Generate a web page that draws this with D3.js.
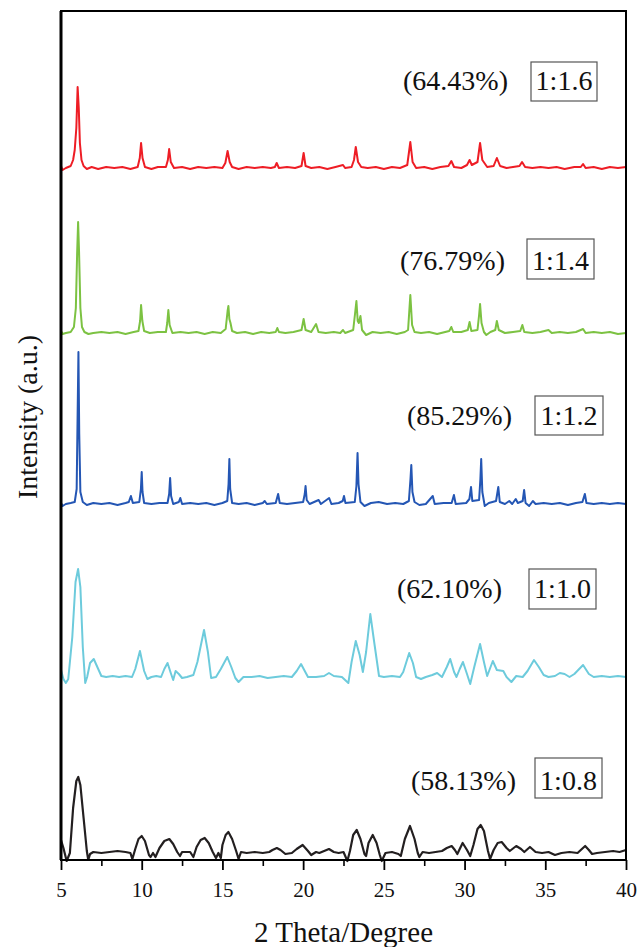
<!DOCTYPE html>
<html><head><meta charset="utf-8">
<script src="https://cdn.jsdelivr.net/npm/d3@7/dist/d3.min.js"></script>
<style>body{margin:0;background:#fff;}svg{display:block;}text{font-family:"Liberation Serif","Times New Roman",serif;}</style>
</head><body><svg id="c" width="639" height="947"></svg>
<script>
// ---- data (2θ in degrees, intensity above each curve's own baseline, a.u.) ----
const ratios = ["1:1.6", "1:1.4", "1:1.2", "1:1.0", "1:0.8"];
const crystallinity = ["(64.43%)", "(76.79%)", "(85.29%)", "(62.10%)", "(58.13%)"];
const offsets = [692, 527, 356, 183, 7];
const xTicks = [5, 10, 15, 20, 25, 30, 35, 40];
const xMinorTicks = [7.5, 12.5, 17.5, 22.5, 27.5, 32.5, 37.5];

const s16 = [[5.0,2],[5.1,-2],[5.3,0],[5.6,2],[5.75,8],[5.85,18],[5.95,40],[6.03,81],[6.1,60],[6.17,25],[6.27,8],[6.4,2],[6.6,-1],[6.9,1],[7.3,-1],[7.8,1],[8.3,0],[8.8,1],[9.3,-1],[9.75,1],[9.88,10],[9.96,25],[10.05,10],[10.2,1],[10.6,-1],[11.0,1],[11.5,1],[11.62,8],[11.7,19],[11.8,6],[12.0,0],[12.5,1],[13.0,-1],[13.5,1],[14.0,0],[14.5,1],[15.0,0],[15.18,5],[15.32,17],[15.45,6],[15.6,1],[16.0,-1],[16.5,1],[17.0,0],[17.5,1],[18.0,0],[18.25,1],[18.36,5],[18.5,0],[19.0,1],[19.5,0],[19.9,2],[20.03,15],[20.15,2],[20.5,0],[21.0,1],[21.5,-1],[22.0,1],[22.47,3],[22.6,0],[23.0,1],[23.15,8],[23.26,21],[23.4,6],[23.6,1],[24.0,0],[24.5,1],[25.0,-1],[25.5,1],[26.0,0],[26.45,3],[26.64,26],[26.78,6],[27.0,0],[27.5,1],[28.0,-1],[28.5,1],[29.0,2],[29.18,7],[29.35,1],[29.8,0],[30.15,3],[30.31,8],[30.45,3],[30.8,6],[30.96,25],[31.1,8],[31.4,1],[31.8,2],[32.0,10],[32.2,2],[32.6,0],[33.0,1],[33.4,2],[33.56,6],[33.75,1],[34.2,0],[34.7,1],[35.2,0],[35.7,1],[36.2,-1],[36.8,1],[37.2,1],[37.34,4],[37.5,0],[38.0,1],[38.5,-1],[39.0,1],[39.5,0],[40.0,1]];

const s14 = [[5.0,2],[5.1,-1],[5.3,0],[5.6,1],[5.8,6],[5.92,25],[6.0,80],[6.06,111],[6.12,80],[6.2,25],[6.3,6],[6.45,1],[6.7,-1],[7.0,0],[7.5,1],[8.0,0],[8.5,1],[9.0,-1],[9.5,1],[9.8,2],[9.9,12],[9.96,28],[10.04,12],[10.15,2],[10.5,0],[11.0,1],[11.5,1],[11.58,10],[11.65,23],[11.73,8],[11.9,0],[12.4,1],[12.9,0],[13.4,1],[13.9,-1],[14.4,1],[14.9,0],[15.2,4],[15.32,22],[15.37,27],[15.43,14],[15.5,10],[15.6,2],[15.9,0],[16.4,1],[16.9,-1],[17.4,1],[17.9,0],[18.3,1],[18.4,5],[18.5,1],[18.9,0],[19.4,1],[19.9,3],[20.03,14],[20.15,3],[20.5,1],[20.8,9],[20.95,1],[21.4,0],[21.9,1],[22.3,0],[22.47,3],[22.6,0],[23.1,3],[23.22,20],[23.3,32],[23.38,12],[23.45,10],[23.55,17],[23.65,3],[23.9,-2],[24.3,1],[24.8,0],[25.3,1],[25.8,-1],[26.3,1],[26.5,3],[26.64,38],[26.75,8],[26.9,1],[27.3,0],[27.8,1],[28.3,-1],[28.8,1],[29.05,2],[29.18,6],[29.3,1],[29.8,1],[30.2,3],[30.31,11],[30.42,2],[30.8,3],[30.9,18],[30.96,29],[31.05,10],[31.2,1],[31.35,-2],[31.6,1],[31.9,3],[32.0,12],[32.12,3],[32.5,0],[33.0,1],[33.45,2],[33.58,8],[33.7,1],[34.2,0],[34.7,1],[35.2,3],[35.4,0],[35.9,1],[36.4,0],[36.9,1],[37.34,4],[37.5,0],[38.0,1],[38.5,0],[39.0,1],[39.5,-1],[40.0,0]];

const s12 = [[5.0,1],[5.1,-2],[5.3,0],[5.6,1],[5.85,2],[5.97,15],[6.03,90],[6.08,152],[6.13,70],[6.2,12],[6.35,2],[6.6,-1],[7.0,1],[7.5,0],[8.0,1],[8.5,-1],[9.0,1],[9.2,2],[9.33,8],[9.45,1],[9.85,2],[9.95,15],[10.0,32],[10.05,12],[10.15,1],[10.6,0],[11.1,1],[11.6,1],[11.7,10],[11.76,26],[11.82,8],[11.95,0],[12.3,2],[12.39,6],[12.5,0],[13.0,1],[13.5,0],[14.0,1],[14.5,-1],[15.0,1],[15.3,3],[15.38,20],[15.43,45],[15.48,15],[15.6,1],[16.0,0],[16.5,1],[17.0,-1],[17.5,1],[17.62,3],[17.75,0],[18.3,1],[18.45,10],[18.55,1],[19.0,0],[19.5,1],[20.0,2],[20.1,10],[20.15,18],[20.22,4],[20.4,0],[20.96,4],[21.1,0],[21.61,6],[21.75,0],[22.2,1],[22.45,3],[22.53,8],[22.62,1],[23.2,2],[23.3,18],[23.37,51],[23.43,20],[23.55,2],[23.8,-2],[24.2,1],[24.68,2],[25.2,0],[25.7,1],[26.2,0],[26.55,3],[26.65,25],[26.7,39],[26.77,12],[26.9,2],[27.2,-1],[27.6,0],[28.03,8],[28.15,0],[28.7,1],[29.2,1],[29.34,9],[29.45,0],[30.1,1],[30.3,5],[30.4,17],[30.48,3],[30.9,4],[30.98,25],[31.03,45],[31.1,12],[31.25,-2],[31.5,1],[31.95,3],[32.09,17],[32.18,2],[32.5,0],[32.77,3],[32.95,0],[33.17,5],[33.3,1],[33.6,3],[33.69,14],[33.78,1],[34.0,-2],[34.23,3],[34.4,0],[34.9,1],[35.4,0],[35.9,1],[36.4,-1],[36.9,1],[37.3,2],[37.45,10],[37.55,1],[38.0,0],[38.5,1],[39.0,0],[39.5,1],[40.0,0]];

const s10 = [[5.0,7],[5.15,-2],[5.3,-6],[5.45,-2],[5.7,40],[5.9,95],[6.06,108],[6.2,90],[6.35,30],[6.5,-6],[6.62,0],[6.8,14],[7.03,18],[7.25,10],[7.5,1],[7.8,0],[8.2,1],[8.6,0],[9.0,1],[9.4,0],[9.6,8],[9.89,26],[10.15,6],[10.35,-2],[10.6,0],[10.9,1],[11.2,0],[11.4,8],[11.6,14],[11.8,4],[11.95,-3],[12.1,6],[12.3,3],[12.5,-1],[12.8,0],[13.2,2],[13.45,15],[13.86,47],[14.1,25],[14.3,-1],[14.6,0],[14.9,8],[15.3,20],[15.55,10],[15.8,-1],[16.0,-5],[16.3,0],[16.8,0],[17.3,1],[17.8,-1],[18.3,0],[18.8,1],[19.3,0],[19.6,6],[19.87,13],[20.1,6],[20.3,0],[20.8,0],[21.3,1],[21.6,4],[21.9,1],[22.4,0],[22.6,-3],[22.8,-6],[23.0,15],[23.26,36],[23.5,22],[23.7,5],[23.9,25],[24.16,63],[24.4,35],[24.7,1],[25.0,0],[25.5,1],[26.0,0],[26.2,5],[26.57,24],[26.8,14],[27.0,0],[27.3,-2],[27.6,0],[28.0,2],[28.3,4],[28.6,0],[28.9,10],[29.11,18],[29.35,5],[29.5,0],[29.7,8],[29.9,15],[30.15,3],[30.35,-7],[30.6,10],[30.96,33],[31.2,15],[31.4,1],[31.75,16],[32.0,7],[32.4,6],[32.6,0],[32.9,-5],[33.2,1],[33.6,0],[33.9,6],[34.3,17],[34.6,10],[34.9,2],[35.2,0],[35.6,1],[35.9,4],[36.2,3],[36.5,0],[36.8,3],[37.34,12],[37.7,3],[38.0,0],[38.5,1],[39.0,0],[39.5,1],[40.0,0]];

const s08 = [[5.0,13],[5.15,5],[5.35,-8],[5.55,0],[5.75,45],[5.95,72],[6.07,76],[6.2,68],[6.4,35],[6.6,2],[6.69,-7],[6.8,-1],[7.0,1],[7.5,0],[8.0,1],[8.5,2],[9.0,1],[9.3,0],[9.42,-6],[9.6,4],[9.8,14],[10.0,17],[10.2,12],[10.45,-2],[10.55,-4],[10.7,0],[10.85,-4],[11.1,5],[11.4,12],[11.71,14],[11.95,9],[12.2,1],[12.37,-3],[12.5,1],[13.0,1],[13.2,-4],[13.4,6],[13.65,13],[13.9,15],[14.15,10],[14.4,1],[14.6,-5],[14.75,0],[14.9,-5],[15.0,8],[15.2,18],[15.37,21],[15.6,14],[15.85,2],[16.0,-6],[16.15,1],[16.5,0],[17.0,1],[17.5,0],[17.9,1],[18.1,3],[18.37,5],[18.6,3],[18.9,-1],[19.3,0],[19.6,4],[19.97,8],[20.3,2],[20.5,-2],[20.8,1],[21.0,0],[21.3,2],[21.6,4],[21.9,1],[22.2,0],[22.5,1],[22.74,-8],[22.9,2],[23.1,18],[23.32,23],[23.55,14],[23.8,-1],[23.9,-3],[24.05,10],[24.31,18],[24.55,10],[24.75,-2],[24.87,-8],[25.1,0],[25.5,1],[25.9,-1],[26.05,-3],[26.3,14],[26.62,27],[26.9,14],[27.1,0],[27.2,-4],[27.4,1],[27.8,0],[28.2,1],[28.6,2],[28.9,5],[29.2,7],[29.4,3],[29.55,-1],[29.88,10],[30.15,3],[30.35,-3],[30.55,8],[30.8,24],[31.0,28],[31.2,22],[31.45,2],[31.58,-6],[31.8,3],[32.05,10],[32.3,11],[32.6,5],[32.8,2],[33.2,7],[33.5,4],[33.7,1],[34.05,6],[34.4,1],[34.8,0],[35.2,1],[35.6,-2],[36.0,0],[36.5,1],[37.0,0],[37.2,3],[37.47,7],[37.7,3],[37.9,-1],[38.2,0],[38.7,1],[39.2,2],[39.6,1],[40.0,3]];

const seriesData = [s16, s14, s12, s10, s08];

// ---- layout / style ----
const colors = ["#ee1d25", "#7cc242", "#2456b4", "#6dcbdc", "#231f20"];
const widths = [2, 2, 2, 2, 2.2];
const labelLayout = [ // percent text x, baseline; box x, y, w, h
  {tx: 403, ty: 90,  bx: 531, by: 62,  bw: 66, bh: 39},
  {tx: 400, ty: 270, bx: 527, by: 239, bw: 67, bh: 40},
  {tx: 407, ty: 425, bx: 535, by: 396, bw: 68, bh: 39},
  {tx: 397, ty: 598, bx: 529, by: 569, bw: 67, bh: 40},
  {tx: 411, ty: 790, bx: 535, by: 758, bw: 67, bh: 40}
];
const L = 61, R = 626, T = 11, B = 860;

const svg = d3.select("#c");
const x = d3.scaleLinear().domain([5, 40]).range([L, R]);
const y = d3.scaleLinear().domain([0, B - T]).range([B, T]);

// curves
const line = d3.line().x(d => x(d[0])).y(d => y(d[1]));
seriesData.forEach((s, i) => {
  svg.append("path")
    .datum(s.map(p => [p[0], p[1] + offsets[i]]))
    .attr("d", line)
    .attr("fill", "none")
    .attr("stroke", colors[i])
    .attr("stroke-width", widths[i])
    .attr("stroke-linejoin", "round");
});

// frame
svg.append("rect").attr("x", L).attr("y", T).attr("width", R - L).attr("height", B - T)
  .attr("fill", "none").attr("stroke", "#000").attr("stroke-width", 2);
svg.append("line").attr("x1", L).attr("x2", L).attr("y1", T).attr("y2", B)
  .attr("stroke", "#000").attr("stroke-width", 3);

// x axis (major + minor ticks, outward)
const gx = svg.append("g").attr("transform", `translate(0,${B})`)
  .call(d3.axisBottom(x).tickValues(xTicks).tickSize(10).tickSizeOuter(0).tickPadding(12).tickFormat(d3.format("d")));
gx.select(".domain").remove();
gx.selectAll(".tick line").attr("stroke", "#000").attr("stroke-width", 1.8);
gx.selectAll(".tick text").attr("font-size", 21).attr("fill", "#111")
  .style("font-family", "'Liberation Serif', serif");
const gm = svg.append("g").attr("transform", `translate(0,${B})`)
  .call(d3.axisBottom(x).tickValues(xMinorTicks).tickSize(6).tickSizeOuter(0).tickFormat(""));
gm.select(".domain").remove();
gm.selectAll(".tick line").attr("stroke", "#000").attr("stroke-width", 1.6);

// axis titles
svg.append("text").attr("x", (L + R) / 2).attr("y", 942).attr("text-anchor", "middle")
  .attr("font-size", 29).attr("fill", "#111").text("2 Theta/Degree");
svg.append("text").attr("transform", "translate(37,417) rotate(-90)").attr("text-anchor", "middle")
  .attr("font-size", 28).attr("fill", "#111").text("Intensity (a.u.)");

// annotations
labelLayout.forEach((p, i) => {
  svg.append("text").attr("x", p.tx).attr("y", p.ty).attr("font-size", 28).attr("fill", "#111")
    .text(crystallinity[i]);
  svg.append("rect").attr("x", p.bx).attr("y", p.by).attr("width", p.bw).attr("height", p.bh)
    .attr("fill", "#fff").attr("stroke", "#555").attr("stroke-width", 1.2);
  svg.append("text").attr("x", p.bx + p.bw / 2).attr("y", p.ty).attr("text-anchor", "middle")
    .attr("font-size", 28).attr("fill", "#111").text(ratios[i]);
});
</script></body></html>
